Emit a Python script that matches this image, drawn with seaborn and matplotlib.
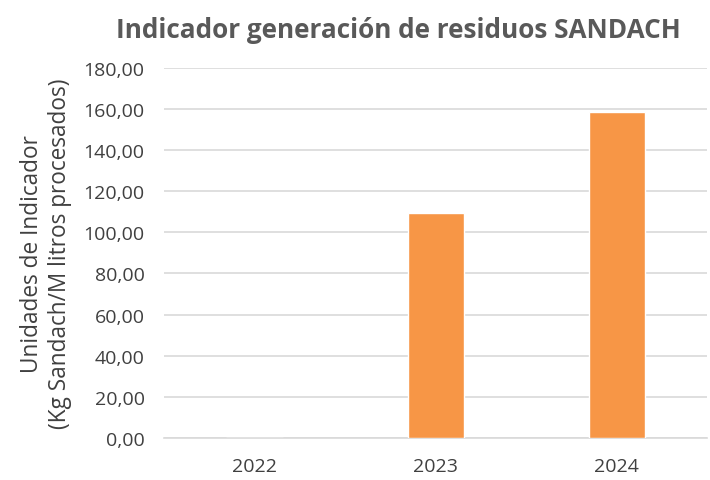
import matplotlib
matplotlib.use("Agg")
import matplotlib.pyplot as plt
import seaborn as sns
import pandas as pd
from matplotlib.ticker import FuncFormatter

years = ["2022", "2023", "2024"]
values = [0.0, 109.4, 158.3]
y_ticks = [0, 20, 40, 60, 80, 100, 120, 140, 160, 180]

sns.set_theme(style="white")
plt.rcParams['font.family'] = ['Open Sans', 'DejaVu Sans']

df = pd.DataFrame({"year": years, "value": values})

fig = plt.figure(figsize=(7.1, 4.81), dpi=100)
ax = fig.add_axes([0.231, 0.0873, 0.765, 0.77])

sns.barplot(data=df, x="year", y="value", color="#F79646", saturation=1,
            width=0.31, ax=ax, zorder=3)

ax.set_ylim(0, 180)
ax.set_yticks(y_ticks)
ax.yaxis.set_major_formatter(FuncFormatter(lambda v, p: f"{v:.2f}".replace(".", ",")))
ax.grid(axis="y", color="#D9D9D9", linewidth=1.2, zorder=0)
for s in ["top", "right", "left"]:
    ax.spines[s].set_visible(False)
ax.spines["bottom"].set_color("#D9D9D9")
ax.spines["bottom"].set_linewidth(1.2)
ax.tick_params(axis="both", length=0, labelsize=14, colors="#404040")
ax.tick_params(axis="y", pad=14)
ax.tick_params(axis="x", pad=14)
ax.set_xlabel("")
ax.set_ylabel("Unidades de Indicador\n(Kg Sandach/M litros procesados)",
              fontsize=16.3, color="#404040", linespacing=1.25, labelpad=8)

fig.text(0.561, 0.937, "Indicador generación de residuos SANDACH",
         ha="center", va="center", fontsize=18.8, fontweight="bold", color="#595959")

fig.savefig("out.png", dpi=100)
